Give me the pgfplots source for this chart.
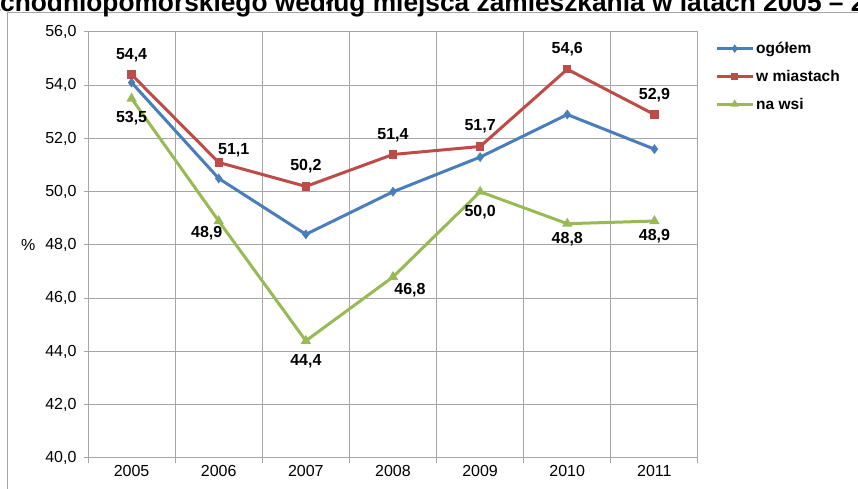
\documentclass[border=0pt]{standalone}
\usepackage{fontspec}
\setmainfont{Liberation Sans}
\usepackage{pgfplots}
\usepackage{pgfplotstable}
\pgfplotsset{compat=1.18}

\definecolor{cBlue}{HTML}{4A7EBB}
\definecolor{cRed}{HTML}{BE4B48}
\definecolor{cGreen}{HTML}{98B954}
\definecolor{gridgray}{HTML}{A6A6A6}

% year, value, label offset (dx, dy in pt)
\pgfplotstableread{
year val dx dy
2005 54.4 0 19
2006 51.1 15 12
2007 50.2 0 20
2008 51.4 0 19
2009 51.7 0 20
2010 54.6 0 20
2011 52.9 0 19
}\miasta

\pgfplotstableread{
year val dx dy
2005 53.5 0 -20
2006 48.9 -12 -12
2007 44.4 0 -20
2008 46.8 17 -13
2009 50.0 0 -20
2010 48.8 0 -15
2011 48.9 0 -15
}\wies

\begin{document}
\begin{tikzpicture}[x=1pt,y=1pt]
\useasboundingbox (0,0) rectangle (858,489);
\clip (0,0) rectangle (858,489);
\draw[gridgray, line width=1pt] (7,-10) rectangle (900,476);
\node[anchor=base west, inner sep=0pt, font=\fontsize{26.3}{30}\selectfont\bfseries]
  at (0,477) {\llap{za}chodniopomorskiego według miejsca zamieszkania w latach 2005 – 2\rlap{011}};

\begin{axis}[
  at={(88pt,31pt)}, anchor=south west,
  scale only axis, width=610pt, height=426pt,
  xmin=2004.5, xmax=2011.5, ymin=40, ymax=56,
  xtick={2005,...,2011},
  minor xtick={2004.5,2005.5,...,2011.5},
  ytick={40,42,...,56},
  xmajorgrids=false, xminorgrids=true, ymajorgrids=true,
  grid style={gridgray, line width=1pt},
  minor grid style={gridgray, line width=1pt},
  axis line style={gridgray, line width=1pt},
  tick align=outside, xtick pos=lower, ytick pos=left,
  major x tick style={draw=none},
  minor x tick style={gridgray, line width=1pt},
  ytick style={gridgray, line width=1pt},
  minor tick length=5pt, major tick length=4pt,
  /pgf/number format/assume math mode=true,
  xticklabel style={/pgf/number format/1000 sep={}, font=\fontsize{16}{19}\selectfont},
  yticklabel style={/pgf/number format/.cd, fixed, fixed zerofill, precision=1, use comma,
    /tikz/.cd, font=\fontsize{16}{19}\selectfont, xshift=-4pt},
  ylabel={\%},
  ylabel style={rotate=-90, at={(axis description cs:-0.098,0.5)}, anchor=center,
    font=\fontsize{16}{19}\selectfont},
  legend style={at={(1,1)}, anchor=north west, xshift=14pt, yshift=-6pt,
    draw=none, fill=none, font=\fontsize{15.5}{18}\selectfont\bfseries,
    row sep=11pt, cells={anchor=west}},
  legend image code/.code={
    \draw[#1, mark repeat=2, mark phase=2, mark size=1.8pt] plot coordinates {(0pt,0pt) (18pt,0pt) (36pt,0pt)};},
  every node near coord/.append style={font=\fontsize{16}{19}\selectfont\bfseries,
    text=black, inner sep=0pt, anchor=center},
  clip=false,
]
\addplot[cBlue, line width=3pt, mark=diamond*, mark size=2.5pt]
  coordinates {(2005,54.1)(2006,50.5)(2007,48.4)(2008,50.0)(2009,51.3)(2010,52.9)(2011,51.6)};
\addlegendentry{ogółem}

\addplot[cRed, line width=3pt, mark=square*, mark size=2.6pt,
  visualization depends on={\thisrow{dx}\as\dx},
  visualization depends on={\thisrow{dy}\as\dy},
  nodes near coords={\pgfmathprintnumber[fixed,fixed zerofill,precision=1,use comma]{\pgfplotspointmeta}},
  every node near coord/.append style={xshift=\dx pt, yshift=\dy pt}]
  table[x=year, y=val] {\miasta};
\addlegendentry{w miastach}

\addplot[cGreen, line width=3pt, mark=triangle*, mark size=3pt,
  visualization depends on={\thisrow{dx}\as\dx},
  visualization depends on={\thisrow{dy}\as\dy},
  nodes near coords={\pgfmathprintnumber[fixed,fixed zerofill,precision=1,use comma]{\pgfplotspointmeta}},
  every node near coord/.append style={xshift=\dx pt, yshift=\dy pt}]
  table[x=year, y=val] {\wies};
\addlegendentry{na wsi}
\end{axis}
\end{tikzpicture}
\end{document}
